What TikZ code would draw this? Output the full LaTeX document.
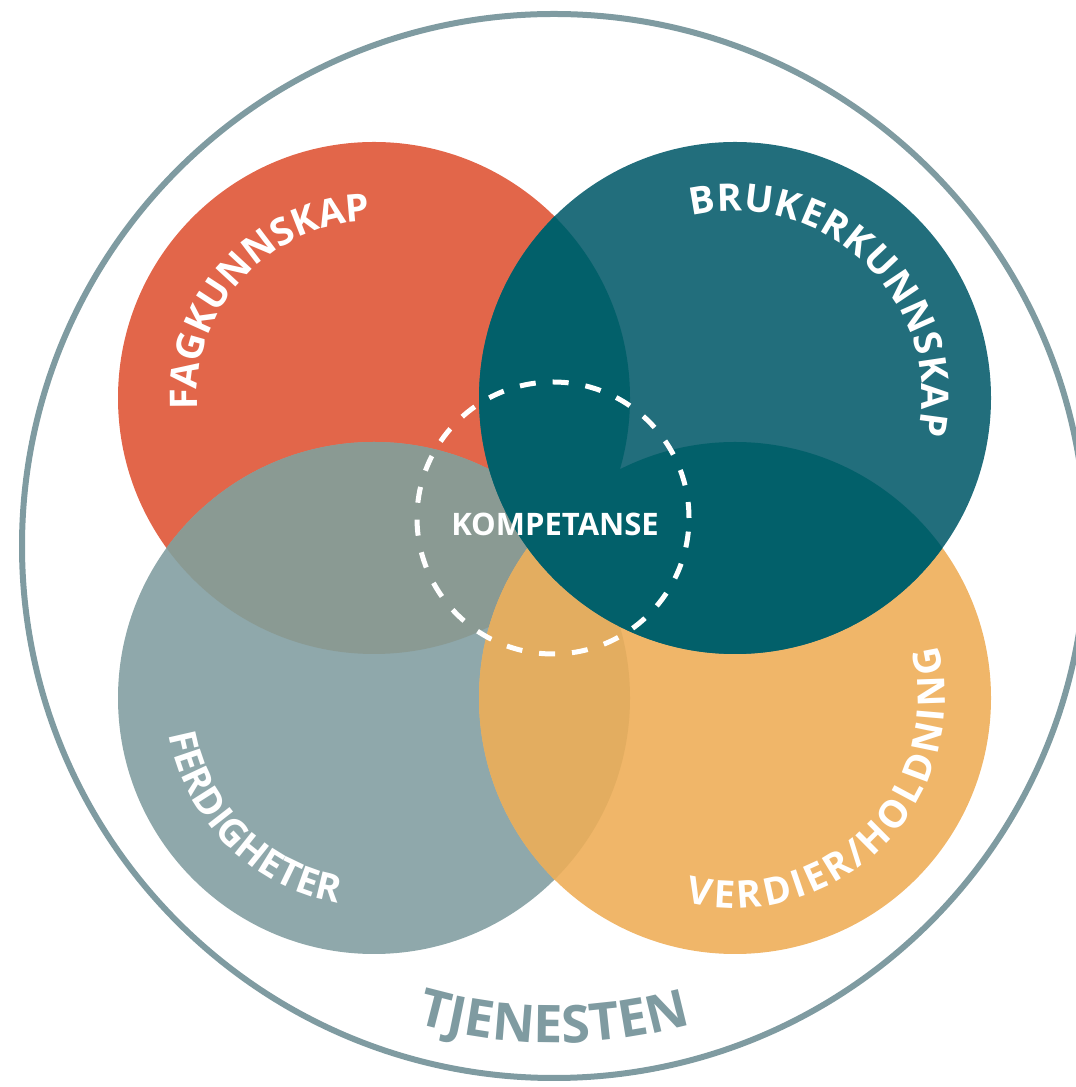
\documentclass[tikz,border=0pt]{standalone}
\usepackage{fontspec}
\setmainfont{Open Sans}
\usetikzlibrary{decorations.text}

\definecolor{fagorange}{HTML}{E2664A}
\definecolor{brukerteal}{HTML}{226E7C}
\definecolor{ferdgray}{HTML}{8FA8AB}
\definecolor{verdiyellow}{HTML}{F0B669}
\definecolor{darkteal}{HTML}{02606A}
\definecolor{fagferd}{HTML}{8A9A93}
\definecolor{verdimix}{HTML}{E3AD60}
\definecolor{ringgray}{HTML}{7F9BA1}

\newcommand\arcfont{\fontsize{38}{44}\selectfont\bfseries}
\newcommand\tjfont{\fontsize{52}{58}\selectfont\bfseries}

\begin{document}
\begin{tikzpicture}[x=1pt,y=1pt,
  ring/.style={draw=ringgray,line width=6pt},
  arc text/.style={decorate,decoration={text along path,text align=center,
    text color=white,text={#1}}},
  fit text/.style={decorate,decoration={text along path,text align={fit to path},
    text color=white,text={#1}}}]
  \useasboundingbox (0,0) rectangle (1076,1087);
  % centres
  \coordinate (mid) at (554,541);
  \coordinate (fag) at (374,689);
  \coordinate (bruker) at (735,689);
  \coordinate (ferd) at (374,389);
  \coordinate (verdi) at (735,389);
  \coordinate (komp) at (553,569);
  % the four circles and their overlaps
  \fill[fagorange] (fag) circle[radius=256];
  \fill[ferdgray] (ferd) circle[radius=256];
  \begin{scope}
    \clip (ferd) circle[radius=256];
    \fill[fagferd] (fag) circle[radius=256];
  \end{scope}
  \fill[verdiyellow] (verdi) circle[radius=256];
  \begin{scope}
    \clip (verdi) circle[radius=256];
    \fill[verdimix] (ferd) circle[radius=256] (fag) circle[radius=256];
  \end{scope}
  \fill[brukerteal] (bruker) circle[radius=256];
  \begin{scope}
    \clip (bruker) circle[radius=256];
    \fill[darkteal] (fag) circle[radius=256] (ferd) circle[radius=256]
      (verdi) circle[radius=256];
  \end{scope}
  % centre
  \draw[white,line width=5pt,dash pattern=on 16pt off 17pt] (komp) circle[radius=136];
  \node[font=\fontsize{31}{36}\selectfont\bfseries,text=white] (kompetanse) at (555,563) {KOMPETANSE};
  % outer ring
  \draw[ring] (mid) circle[radius=532];
  % labels along the circles
  \path[arc text={|\arcfont|FAGKUNNSKAP}]
    (fag) ++(207.5:177) arc[start angle=207.5,end angle=67.5,radius=177];
  \path[fit text={|\arcfont|BRUKERKUNNSKAP}]
    (bruker) ++(103.5:187) arc[start angle=103.5,end angle=-11.3,radius=187];
  \path[arc text={|\arcfont|FERDIGHETER}]
    (ferd) ++(165:208) arc[start angle=165,end angle=285,radius=208];
  \path[fit text={|\arcfont|VERDIER/HOLDNING}]
    (verdi) ++(256.5:210) arc[start angle=256.5,end angle=374.5,radius=210];
  \path[decorate,decoration={text along path,text align=center,text color=ringgray,
    text={|\tjfont|TJENESTEN}}]
    (mid) ++(240:497) arc[start angle=240,end angle=300,radius=497];
\end{tikzpicture}
\end{document}
